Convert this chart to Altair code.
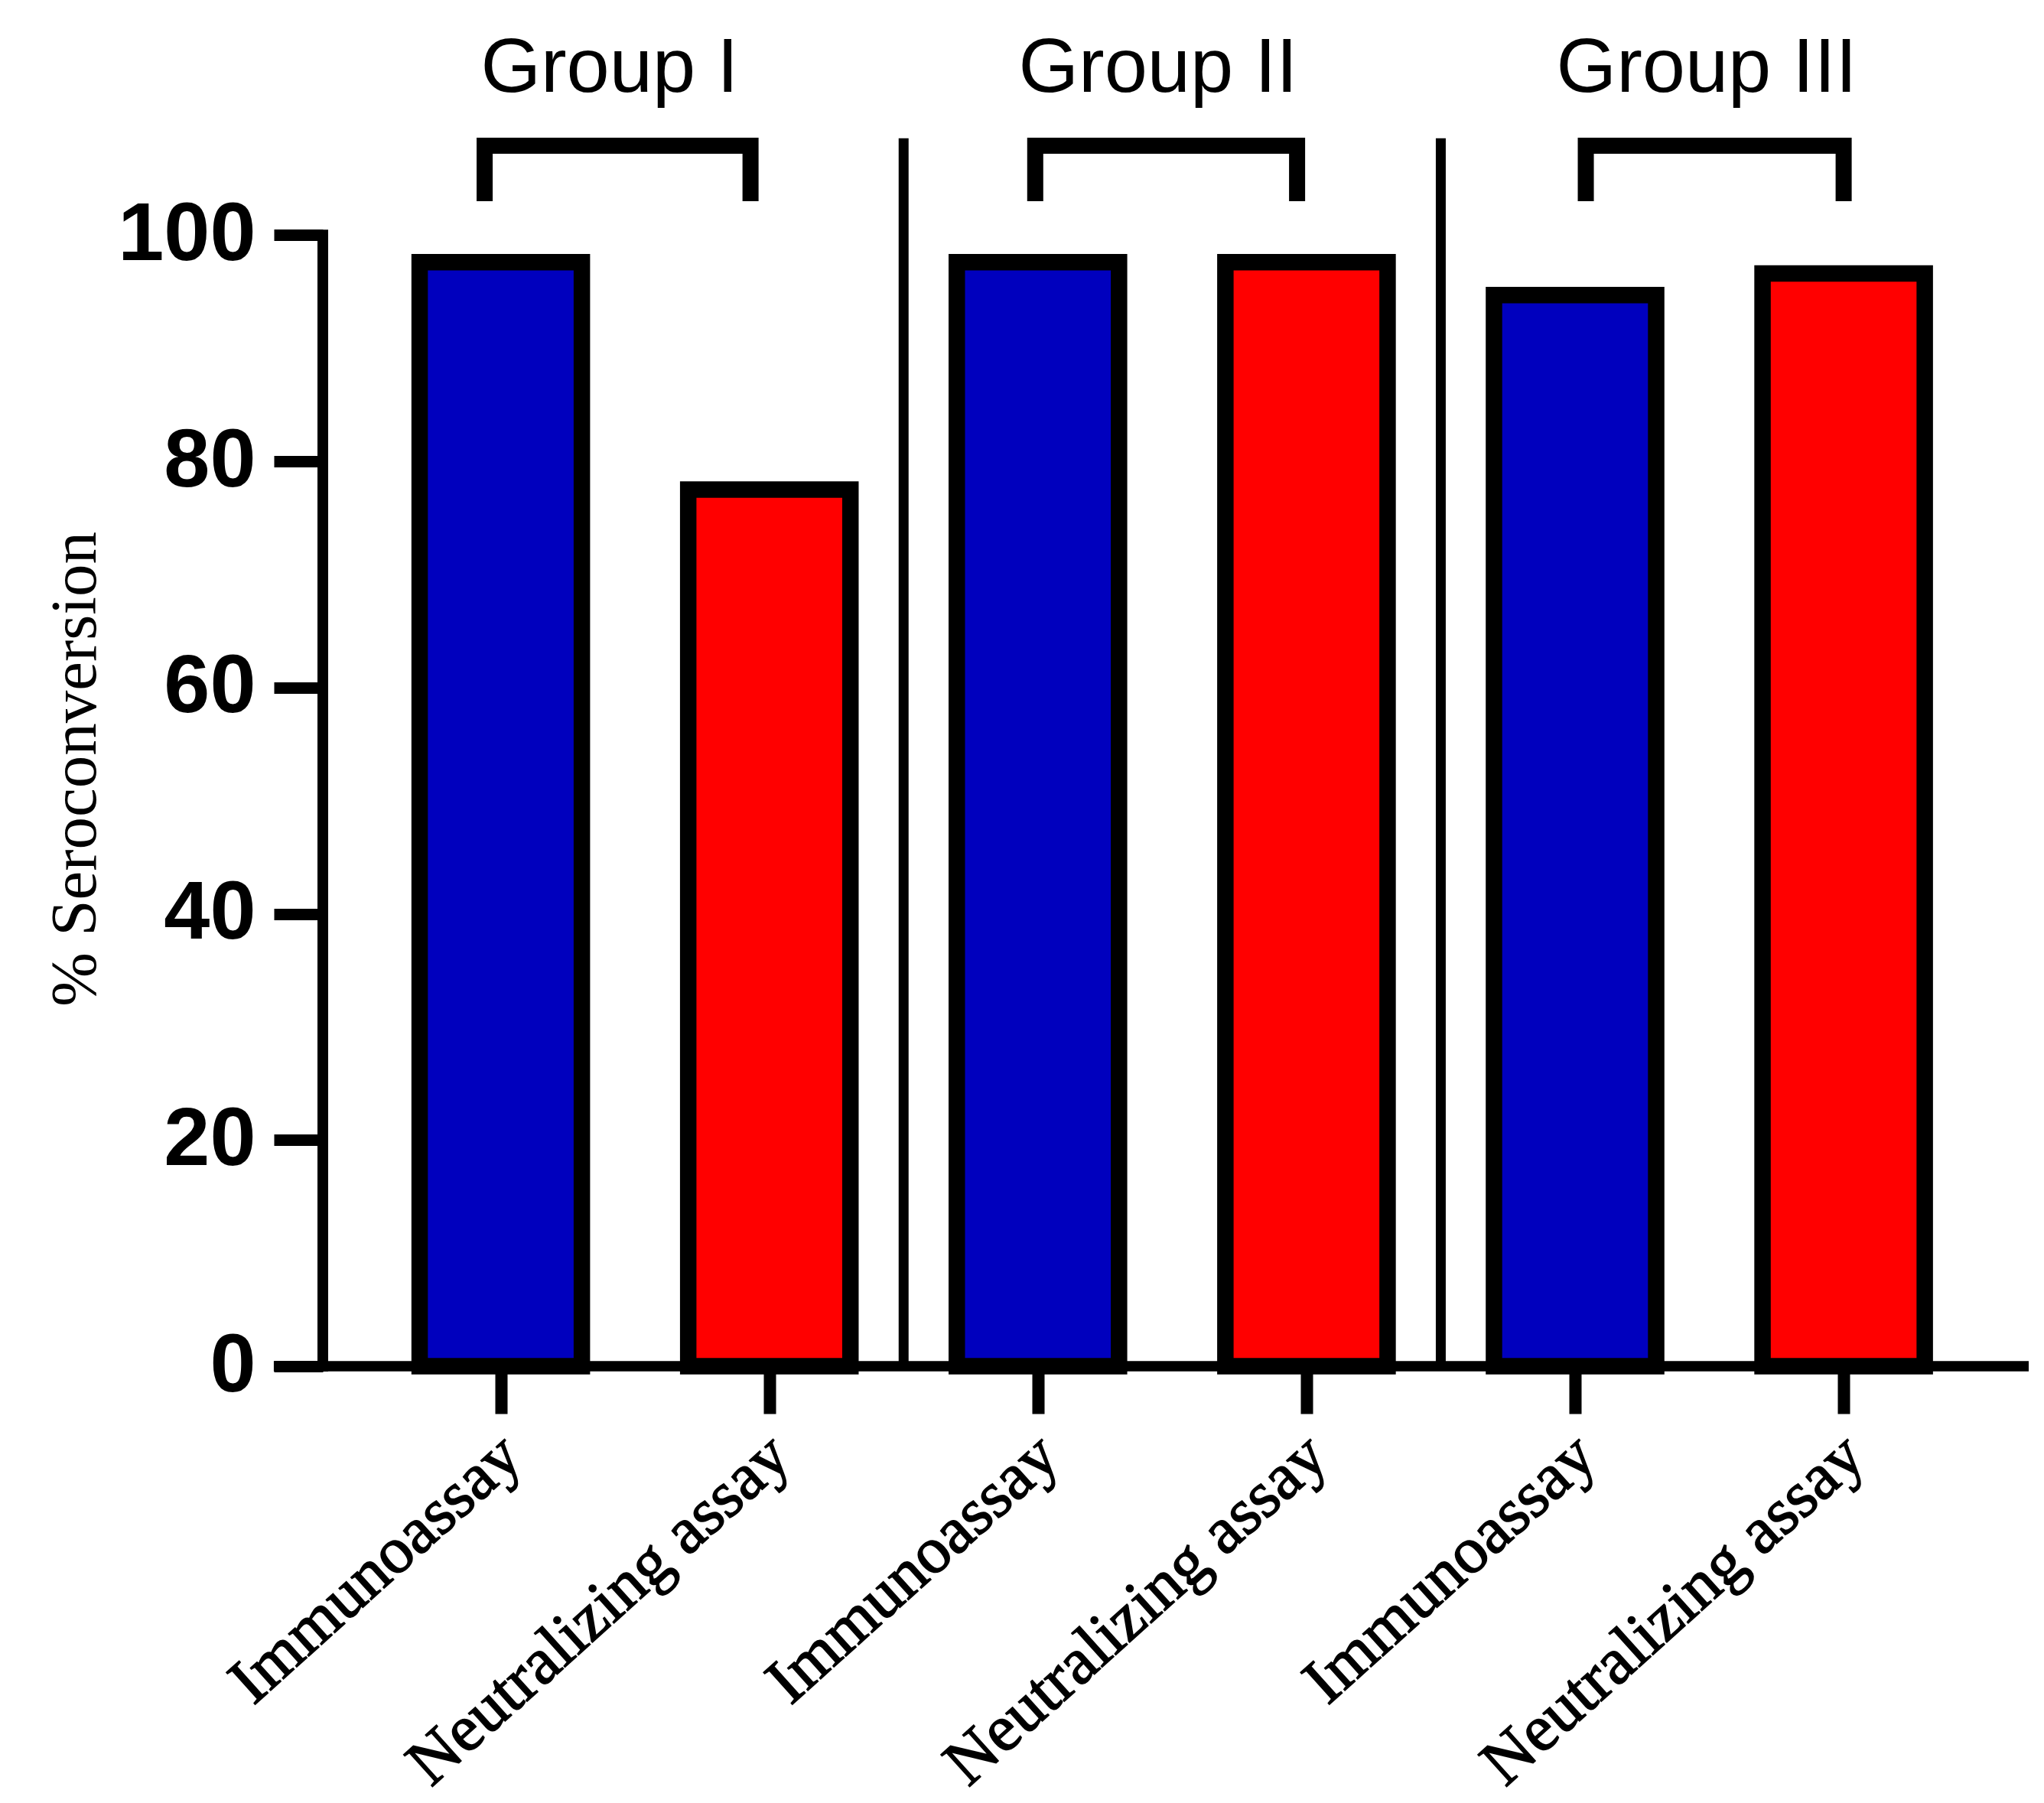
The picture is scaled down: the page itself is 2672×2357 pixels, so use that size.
import altair as alt
import pandas as pd

# ---------------- data ----------------
groups = ["Group I", "Group II", "Group III"]
assays = ["Immunoassay", "Neutralizing assay"]
immunoassay = [97.6, 97.6, 94.7]
neutralizing = [77.5, 97.6, 96.6]
assay_colors = ["#0000BE", "#FF0000"]
y_ticks = [0, 20, 40, 60, 80, 100]

# ---------------- layout constants ----------------
XMIN, XMAX = -0.6625, 5.689
YMAX = 119.9
W, H = 2230, 1773
HALF = 0.302
LABEL_DX = 0.09      # label end offset from tick (x units)
LABEL_Y = -8.42      # baseline of rotated labels (y units, below axis)

xscale = alt.Scale(domain=[XMIN, XMAX], nice=False, zero=False)
yscale = alt.Scale(domain=[0, YMAX], nice=False, zero=False)

series = [immunoassay, neutralizing]
bar_rows = []
for g, gname in enumerate(groups):
    for a, assay in enumerate(assays):
        idx = 2 * g + a
        bar_rows.append(dict(idx=idx, left=idx - HALF, right=idx + HALF,
                             value=series[a][g], base=0, assay=assay, group=gname,
                             lx=idx + LABEL_DX, ly=LABEL_Y))
bars_df = pd.DataFrame(bar_rows)

bracket_rows, glabel_rows = [], []
for g, gname in enumerate(groups):
    s = 2 * g - 0.06 + 0.05 * g
    e = 2 * g + 0.93 + 0.035 * g
    for k, (xx, yy) in enumerate([(s, 103.0), (s, 107.9), (e, 107.9), (e, 103.0)]):
        bracket_rows.append(dict(group=gname, k=k, x=xx, y=yy))
    glabel_rows.append(dict(group=gname, x=(s + e) / 2 - 0.03, y=112.64))
bracket_df = pd.DataFrame(bracket_rows)
glabel_df = pd.DataFrame(glabel_rows)

divider_df = pd.DataFrame([dict(x=2 * g - 0.5, y=0, y2=108.55) for g in range(1, len(groups))])

xaxis_df = pd.DataFrame([dict(x=-0.845, x2=XMAX, y=0)])
yaxis_df = pd.DataFrame([dict(x=XMIN, y=0, y2=100)])

# ---------------- layers ----------------
bars = alt.Chart(bars_df).mark_rect(
    stroke="black", strokeWidth=21.5, strokeJoin="miter"
).encode(
    x=alt.X("left:Q", scale=xscale, axis=alt.Axis(
        values=list(range(len(bar_rows))), labels=False,
        domain=False, grid=False, ticks=True, tickSize=62, tickWidth=16,
        tickColor="black", title=None)),
    x2="right:Q",
    y=alt.Y("value:Q", scale=yscale, axis=alt.Axis(
        values=y_ticks, domain=False, grid=False, tickSize=64, tickWidth=15,
        tickColor="black", labelFont="Liberation Sans", labelFontWeight="bold",
        labelFontSize=108, labelColor="black", labelPadding=24, labelLimit=0,
        labelFlush=False, labelOverlap=False,
        title="% Seroconversion", titleFont="Liberation Serif",
        titleFontWeight="normal", titleFontSize=85, titleColor="black",
        titleAngle=270, titleAlign="center", titleBaseline="alphabetic",
        titleX=-298, titleY=992, titleLimit=0)),
    y2="base:Q",
    fill=alt.Fill("assay:N", scale=alt.Scale(domain=assays, range=assay_colors), legend=None),
)

xlabels = alt.Chart(bars_df).mark_text(
    font="Liberation Serif", fontSize=86, color="black",
    stroke="black", strokeWidth=1.6,
    angle=318, align="right", baseline="alphabetic"
).encode(
    x=alt.X("lx:Q", scale=xscale, axis=None),
    y=alt.Y("ly:Q", scale=yscale, axis=None),
    text="assay:N",
)

brackets = alt.Chart(bracket_df).mark_line(
    stroke="black", strokeWidth=21, strokeJoin="miter", strokeCap="butt"
).encode(
    x=alt.X("x:Q", scale=xscale, axis=None),
    y=alt.Y("y:Q", scale=yscale, axis=None),
    detail="group:N",
    order="k:Q",
)

glabels = alt.Chart(glabel_df).mark_text(
    font="Liberation Sans", fontSize=101, color="black",
    align="center", baseline="alphabetic"
).encode(
    x=alt.X("x:Q", scale=xscale, axis=None),
    y=alt.Y("y:Q", scale=yscale, axis=None),
    text="group:N",
)

dividers = alt.Chart(divider_df).mark_rule(color="black", strokeWidth=13).encode(
    x=alt.X("x:Q", scale=xscale, axis=None),
    y=alt.Y("y:Q", scale=yscale, axis=None),
    y2="y2:Q",
)

xaxis_line = alt.Chart(xaxis_df).mark_rule(color="black", strokeWidth=13.5).encode(
    x=alt.X("x:Q", scale=xscale, axis=None),
    x2="x2:Q",
    y=alt.Y("y:Q", scale=yscale, axis=None),
)

yaxis_line = alt.Chart(yaxis_df).mark_rule(color="black", strokeWidth=14, strokeCap="square").encode(
    x=alt.X("x:Q", scale=xscale, axis=None),
    y=alt.Y("y:Q", scale=yscale, axis=None),
    y2="y2:Q",
)

chart = alt.layer(bars, dividers, brackets, glabels, xlabels, xaxis_line, yaxis_line).resolve_axis(
    x="independent", y="independent"
).properties(
    width=W, height=H,
    autosize=alt.AutoSizeParams(type="none"),
    padding={"left": 414, "top": 5, "right": 12, "bottom": 570},
    background="white",
).configure_view(stroke=None)

chart.save("out.html", embed_options={"renderer": "svg", "actions": False})
